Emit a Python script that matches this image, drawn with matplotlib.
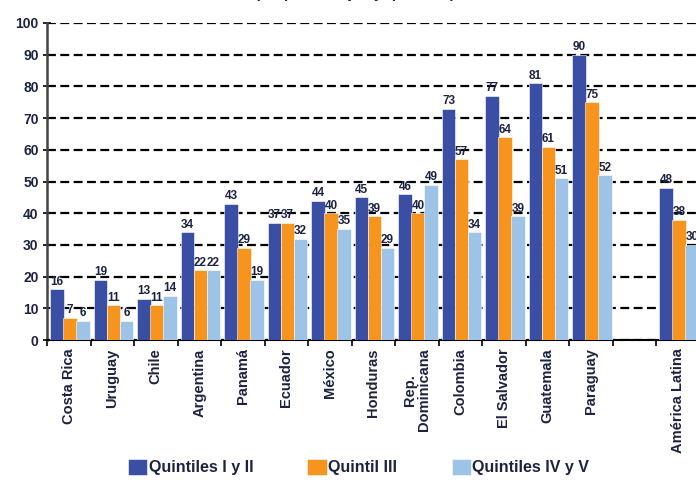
import numpy as np
import matplotlib.pyplot as plt

plt.rcParams['font.family'] = ['Liberation Sans', 'DejaVu Sans']

# Data (percent)
countries = ['Costa Rica', 'Uruguay', 'Chile', 'Argentina', 'Panamá', 'Ecuador',
             'México', 'Honduras', 'Rep.\nDominicana', 'Colombia', 'El Salvador',
             'Guatemala', 'Paraguay', '', 'América Latina']
q12 = [16, 19, 13, 34, 43, 37, 44, 45, 46, 73, 77, 81, 90, None, 48]
q3 = [7, 11, 11, 22, 29, 37, 40, 39, 40, 57, 64, 61, 75, None, 38]
q45 = [6, 6, 14, 22, 19, 32, 35, 29, 49, 34, 39, 51, 52, None, 30]
series_names = ['Quintiles I y II', 'Quintil III', 'Quintiles IV y V']

colors = ['#3A4FA4', '#F7941D', '#9DC3E6']
label_color = '#1C2340'

fig = plt.figure(figsize=(6.96, 4.82), dpi=100)
ax = fig.add_axes([47 / 696, 142 / 482, 652.5 / 696, 317 / 482])

n = len(countries)
centers = np.arange(n) + 0.53
offsets = [-0.30, 0.0, 0.30]
width = 0.31

handles = []
for vals, off, col, name in zip([q12, q3, q45], offsets, colors, series_names):
    idx = [i for i, v in enumerate(vals) if v is not None]
    heights = [vals[i] for i in idx]
    bars = ax.bar(centers[idx] + off, heights, width=width, color=col,
                  edgecolor='white', linewidth=0.4, label=name, zorder=3)
    handles.append(bars)
    for i, h in zip(idx, heights):
        ax.text(centers[i] + off, h + 0.5, f'{h}', ha='center', va='bottom',
                fontsize=8.5, fontweight='bold', color=label_color, zorder=4)

ax.set_ylim(0, 100)
ax.set_xlim(0, n)
ax.set_yticks(np.arange(0, 101, 10))
ax.yaxis.grid(True, color='black', linestyle=(0, (4, 2)), linewidth=1.6, zorder=0)
ax.set_axisbelow(True)

# category boundaries as ticks, labels at centres
ax.set_xticks(np.arange(0, n + 1))
ax.set_xticklabels([])
ax.set_xticks(np.arange(n) + 0.5, minor=True)
ax.set_xticklabels(countries, minor=True, rotation=90, fontsize=10.5,
                   fontweight='bold', color=label_color, va='top', ha='center',
                   linespacing=1.0)
ax.tick_params(axis='x', which='minor', length=0, pad=6)
ax.tick_params(axis='x', which='major', direction='out', length=4, width=1.2)
ax.tick_params(axis='y', direction='inout', length=6, width=1.2, pad=3,
               labelsize=10, labelcolor=label_color)
for lab in ax.get_yticklabels():
    lab.set_fontweight('bold')

for side in ['top', 'right']:
    ax.spines[side].set_visible(False)
ax.spines['left'].set_linewidth(1.8)
ax.spines['left'].set_color('#444444')
ax.spines['bottom'].set_linewidth(1.5)

fig.text(0.51, 1.004, '(En porcentajes y quintiles)', ha='center', va='baseline',
         fontsize=11, fontweight='bold', color=label_color)

fig.legend(handles, series_names, loc='lower center', bbox_to_anchor=(0.515, -0.016),
           ncol=3, frameon=False, handlelength=1.2, handleheight=1.1,
           handletextpad=0.1, columnspacing=3.4,
           prop={'size': 11.5, 'weight': 'bold'}, labelcolor=label_color)

fig.savefig('out.png', dpi=100)
